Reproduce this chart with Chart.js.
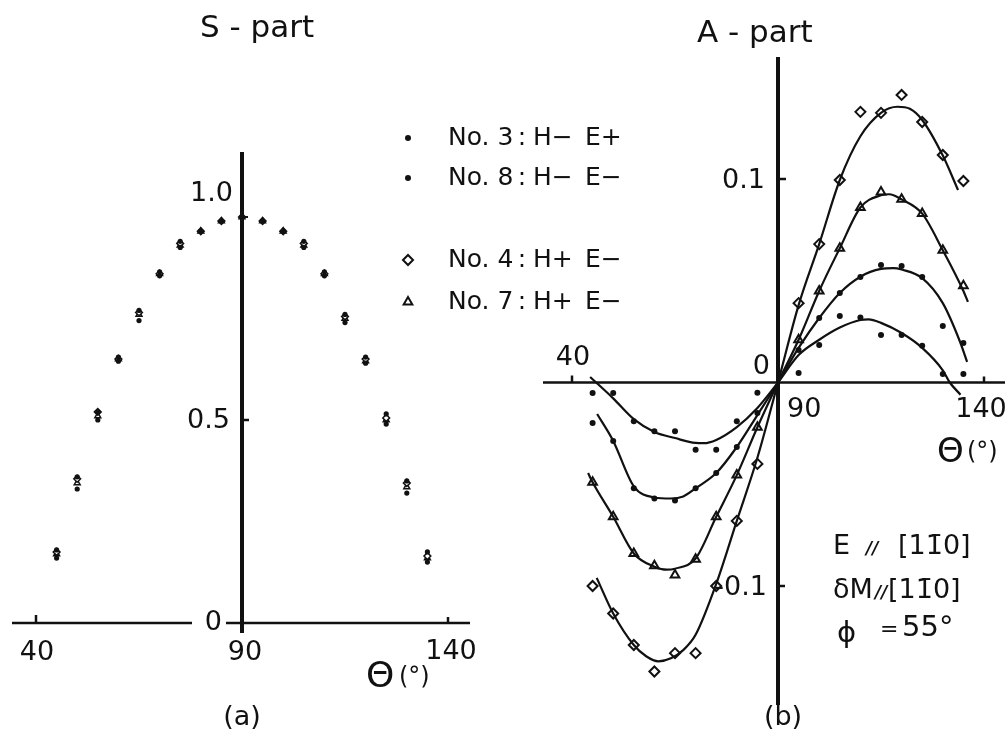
<!DOCTYPE html>
<html>
<head>
<meta charset="utf-8">
<script src="https://cdn.jsdelivr.net/npm/chart.js@4.4.1/dist/chart.umd.min.js"></script>
<style>
  body { margin: 0; background: #fff; width: 1005px; height: 739px; overflow: hidden; position: relative; }
  canvas { position: absolute; top: 0; }
  #sPart { left: 0; }
  #aPart { left: 540px; }
</style>
</head>
<body>
<canvas id="sPart" width="650" height="739"></canvas>
<canvas id="aPart" width="465" height="739"></canvas>
<script>
"use strict"

// scattering angle theta (deg)
var angles = [45, 50, 55, 60, 65, 70, 75, 80, 85, 90, 95, 100, 105, 110, 115, 120, 125, 130, 135];

// (a) S-part, normalised to 1 at 90 deg
var sNo3 = [0.18, 0.36, 0.52, 0.655, 0.77, 0.865, 0.94, 0.965, 0.99, 1.0, 0.99, 0.965, 0.94, 0.865, 0.76, 0.655, 0.515, 0.35, 0.175];
var sNo8 = [0.16, 0.33, 0.50, 0.645, 0.745, 0.855, 0.925, 0.965, 0.99, 1.0, 0.99, 0.965, 0.925, 0.855, 0.74, 0.64, 0.49, 0.32, 0.15];
var sNo4 = [0.175, 0.355, 0.52, 0.65, 0.765, 0.86, 0.935, 0.965, 0.99, 1.0, 0.99, 0.965, 0.935, 0.86, 0.755, 0.65, 0.505, 0.345, 0.165];
var sNo7 = [0.17, 0.345, 0.51, 0.65, 0.76, 0.86, 0.93, 0.965, 0.99, 1.0, 0.99, 0.965, 0.93, 0.86, 0.75, 0.645, 0.50, 0.335, 0.16];

// (b) A-part, no measurement at 90
var aAngles = [45, 50, 55, 60, 65, 70, 75, 80, 85, 95, 100, 105, 110, 115, 120, 125, 130, 135];
var aNo3 = [-0.0052, -0.0052, -0.019, -0.024, -0.024, -0.033, -0.033, -0.019, -0.005, 0.0047, 0.0184, 0.0327, 0.032, 0.0233, 0.0233, 0.018, 0.0042, 0.0042];
var aNo8 = [-0.0199, -0.0287, -0.052, -0.057, -0.058, -0.052, -0.0445, -0.0317, -0.015, 0.016, 0.0317, 0.044, 0.0518, 0.0577, 0.0573, 0.0518, 0.0278, 0.0194];
var aNo4 = [-0.100, -0.1135, -0.129, -0.142, -0.133, -0.133, -0.100, -0.068, -0.040, 0.039, 0.068, 0.0995, 0.133, 0.1325, 0.1413, 0.128, 0.1118, 0.099];
var aNo7 = [-0.049, -0.066, -0.084, -0.090, -0.0946, -0.0868, -0.066, -0.0455, -0.022, 0.021, 0.045, 0.066, 0.086, 0.0936, 0.090, 0.083, 0.065, 0.0475];

// hand-fitted curves through the A-part points
var fitNo3Angles = [44.4, 50, 55, 60, 65, 70, 72, 75, 80, 85, 90, 95, 100, 105, 110, 112, 115, 120, 125, 130, 131.7, 134.3];
var fitNo3 = [0.0027, -0.0078, -0.018, -0.0243, -0.0273, -0.0297, -0.0298, -0.0282, -0.0219, -0.0125, 0, 0.0135, 0.021, 0.027, 0.0307, 0.031, 0.0293, 0.0243, 0.017, 0.006, 0, -0.006];
var fitNo8Angles = [46.1, 50, 55, 60, 64, 67, 70, 75, 80, 85, 90, 95, 100, 105, 110, 115, 118, 120, 125, 130, 134.2, 135.9];
var fitNo8 = [-0.0155, -0.0287, -0.051, -0.0565, -0.057, -0.056, -0.052, -0.0445, -0.0317, -0.016, 0, 0.017, 0.0317, 0.044, 0.052, 0.0558, 0.0562, 0.0555, 0.0513, 0.039, 0.0199, 0.0101];
var fitNo4Angles = [46, 50, 55, 58, 61, 64, 67, 70, 75, 80, 85, 90, 95, 100, 105, 110, 115, 119, 122, 125, 130, 133.7];
var fitNo4 = [-0.096, -0.1135, -0.129, -0.1345, -0.137, -0.1355, -0.1315, -0.124, -0.099, -0.068, -0.037, 0, 0.038, 0.068, 0.0995, 0.121, 0.1325, 0.1355, 0.1345, 0.129, 0.1115, 0.0946];
var fitNo7Angles = [43.9, 45, 50, 55, 60, 63, 65, 70, 75, 80, 85, 90, 95, 100, 105, 110, 115, 117, 120, 125, 130, 135, 136.1];
var fitNo7 = [-0.0445, -0.049, -0.066, -0.084, -0.0905, -0.092, -0.0915, -0.0865, -0.066, -0.0455, -0.022, 0, 0.021, 0.045, 0.066, 0.086, 0.092, 0.0925, 0.090, 0.083, 0.065, 0.045, 0.0396];

var INK = '#111';
var FONT = '"DejaVu Sans", sans-serif';

function pts(xs, ys) {
  return xs.map(function (x, i) { return { x: x, y: ys[i] }; });
}

function dots(data, r) {
  return { data: data, showLine: false, clip: false, pointStyle: 'circle', pointRadius: r,
    backgroundColor: INK, borderColor: INK, borderWidth: 0 };
}
function diamonds(data, r, w) {
  return { data: data, showLine: false, clip: false, pointStyle: 'rectRot', pointRadius: r,
    backgroundColor: '#fff', borderColor: INK, borderWidth: w };
}
function triangles(data, r, w) {
  return { data: data, showLine: false, clip: false, pointStyle: 'triangle', pointRadius: r,
    backgroundColor: '#fff', borderColor: INK, borderWidth: w };
}
function curve(data) {
  return { data: data, showLine: true, clip: false, pointRadius: 0, borderColor: INK,
    borderWidth: 2.2, cubicInterpolationMode: 'monotone', fill: false };
}

function line(ctx, x1, y1, x2, y2, w) {
  ctx.lineWidth = w;
  ctx.beginPath();
  ctx.moveTo(x1, y1);
  ctx.lineTo(x2, y2);
  ctx.stroke();
}
function text(ctx, s, x, y, size, align, base) {
  ctx.font = size + 'px ' + FONT;
  ctx.textAlign = align || 'left';
  ctx.textBaseline = base || 'middle';
  ctx.fillText(s, x, y);
}

// axes, tick labels and legend for the S-part
var sAxes = {
  id: 'sAxes',
  afterDraw: function (chart) {
    var ctx = chart.ctx, sx = chart.scales.x, sy = chart.scales.y;
    var x0 = sx.getPixelForValue(90), y0 = sy.getPixelForValue(0);
    var x40 = sx.getPixelForValue(40), x140 = sx.getPixelForValue(140);
    ctx.save();
    ctx.strokeStyle = INK;
    ctx.fillStyle = INK;
    line(ctx, x40 - 24, y0, x0 - 50, y0, 2.5);
    line(ctx, x0 - 16, y0, x140 + 22, y0, 2.5);
    line(ctx, x40, y0, x40, y0 - 8, 2.5);
    line(ctx, x140, y0, x140, y0 - 6, 2.5);
    line(ctx, x0, 152, x0, y0 + 10, 4);
    line(ctx, x0, sy.getPixelForValue(0.5), x0 + 7, sy.getPixelForValue(0.5), 2.5);
    line(ctx, x0, sy.getPixelForValue(1.0), x0 + 6, sy.getPixelForValue(1.0), 2);

    text(ctx, '1.0', x0 - 9, sy.getPixelForValue(1.0) - 23, 27, 'right');
    text(ctx, '0.5', x0 - 12, sy.getPixelForValue(0.5) + 1, 27, 'right');
    text(ctx, '0', x0 - 20, y0, 27, 'right');
    text(ctx, '40', x40 + 1, y0 + 30, 27, 'center');
    text(ctx, '90', x0 + 3, y0 + 30, 27, 'center');
    text(ctx, '140', x140 + 3, y0 + 29, 27, 'center');
    text(ctx, 'Θ', 366, y0 + 55, 36, 'left');
    text(ctx, '(°)', 399, y0 + 55, 24, 'left');
    text(ctx, '(a)', x0, 718, 27, 'center');
    text(ctx, 'S - part', 200, 37, 31, 'left', 'alphabetic');

    // legend
    var rows = [
      { y: 138, name: 'No. 3', h: 'H−', e: 'E+', style: 'circle', r: 3, fill: INK },
      { y: 178, name: 'No. 8', h: 'H−', e: 'E−', style: 'circle', r: 3, fill: INK },
      { y: 260, name: 'No. 4', h: 'H+', e: 'E−', style: 'rectRot', r: 5, fill: '#fff' },
      { y: 302, name: 'No. 7', h: 'H+', e: 'E−', style: 'triangle', r: 5, fill: '#fff' }
    ];
    rows.forEach(function (row) {
      ctx.fillStyle = row.fill;
      ctx.strokeStyle = INK;
      ctx.lineWidth = 2;
      Chart.helpers.drawPoint(ctx, { pointStyle: row.style, radius: row.r, rotation: 0, borderWidth: row.fill === INK ? 0 : 2 }, 408, row.y);
      ctx.fillStyle = INK;
      text(ctx, row.name, 448, row.y, 25, 'left');
      text(ctx, ':', 522, row.y, 25, 'center');
      text(ctx, row.h, 533, row.y, 25, 'left');
      text(ctx, row.e, 585, row.y, 25, 'left');
    });
    ctx.restore();
  }
};

// axes and labels for the A-part
var aAxes = {
  id: 'aAxes',
  afterDraw: function (chart) {
    var ctx = chart.ctx, sx = chart.scales.x, sy = chart.scales.y;
    var x0 = sx.getPixelForValue(90), y0 = sy.getPixelForValue(0);
    var x40 = sx.getPixelForValue(40), x140 = sx.getPixelForValue(140);
    ctx.save();
    ctx.strokeStyle = INK;
    ctx.fillStyle = INK;
    line(ctx, 3, y0, chart.width, y0, 2.5);
    line(ctx, x40, y0, x40, y0 - 7, 2.5);
    line(ctx, x140, y0, x140, y0 - 6, 2.5);
    line(ctx, x0, 57, x0, 705, 4);
    line(ctx, x0, sy.getPixelForValue(0.1), x0 + 8, sy.getPixelForValue(0.1), 2.5);
    line(ctx, x0, sy.getPixelForValue(-0.1), x0 + 7, sy.getPixelForValue(-0.1), 2.5);

    text(ctx, '0.1', x0 - 13, sy.getPixelForValue(0.1) + 2, 27, 'right');
    text(ctx, '-0.1', x0 - 11, sy.getPixelForValue(-0.1) + 2, 27, 'right');
    text(ctx, '0', x0 - 8, y0 - 16, 27, 'right');
    text(ctx, '40', x40 + 1, y0 - 25, 27, 'center');
    text(ctx, '90', x0 + 9, y0 + 27, 27, 'left');
    text(ctx, '140', x140 - 3, y0 + 27, 27, 'center');
    text(ctx, 'Θ', 397, y0 + 71, 34, 'left');
    text(ctx, '(°)', 427, y0 + 70, 24, 'left');
    text(ctx, '(b)', x0 + 5, 718, 27, 'center');
    text(ctx, 'A - part', 157, 42, 31, 'left', 'alphabetic');

    // measurement geometry
    text(ctx, 'E', 293, 547, 27, 'left');
    text(ctx, 'δM', 293, 591, 27, 'left');
    ctx.font = 'italic bold 17px ' + FONT;
    ctx.textAlign = 'left';
    ctx.fillText('//', 326, 550);
    ctx.fillText('//', 335, 594);
    text(ctx, '[11̄0]', 358, 547, 27, 'left');
    text(ctx, '[11̄0]', 348, 591, 27, 'left');
    text(ctx, 'ϕ', 297, 634, 29, 'left');
    text(ctx, '=', 340, 630, 22, 'left');
    text(ctx, '55°', 362, 628, 29, 'left');
    ctx.restore();
  }
};

function baseOptions(pad, xr, yr) {
  return {
    responsive: false,
    animation: false,
    layout: { padding: pad },
    plugins: { legend: { display: false }, tooltip: { enabled: false } },
    scales: {
      x: { type: 'linear', min: xr[0], max: xr[1], display: false },
      y: { type: 'linear', min: yr[0], max: yr[1], display: false }
    }
  };
}

var ctxS = document.getElementById('sPart').getContext('2d');
var sChart = new Chart(ctxS, {
  type: 'scatter',
  data: {
    datasets: [
      dots(pts(angles, sNo3), 2.6),
      dots(pts(angles, sNo8), 2.6),
      diamonds(pts(angles, sNo4), 3.4, 1.5),
      triangles(pts(angles, sNo7), 3.4, 1.5)
    ]
  },
  // 0 -> y 623, 1.0 -> y 217
  options: baseOptions({ left: 36, right: 202, top: 176.4, bottom: 75.4 }, [40, 140], [-0.1, 1.1]),
  plugins: [sAxes]
});

var ctxA = document.getElementById('aPart').getContext('2d');
var aChart = new Chart(ctxA, {
  type: 'scatter',
  data: {
    datasets: [
      curve(pts(fitNo3Angles, fitNo3)),
      curve(pts(fitNo8Angles, fitNo8)),
      curve(pts(fitNo4Angles, fitNo4)),
      curve(pts(fitNo7Angles, fitNo7)),
      dots(pts(aAngles, aNo3), 3),
      dots(pts(aAngles, aNo8), 3),
      diamonds(pts(aAngles, aNo4), 5, 2),
      triangles(pts(aAngles, aNo7), 5, 2)
    ]
  },
  // 0.1 -> y 179, -0.1 -> y 586
  options: baseOptions({ left: 32, right: 21, top: 56.9, bottom: 30.9 }, [40, 140], [-0.16, 0.16]),
  plugins: [aAxes]
});
</script>
</body>
</html>
